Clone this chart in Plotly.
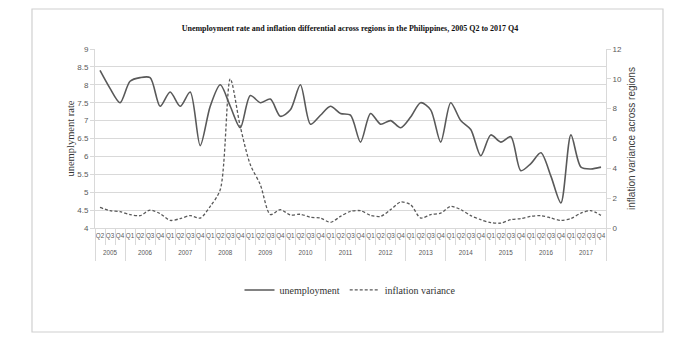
import plotly.graph_objects as go

years = ["2005"] * 3 + [str(y) for y in range(2006, 2018) for _ in range(4)]
quarters = ["Q2", "Q3", "Q4"] + ["Q1", "Q2", "Q3", "Q4"] * 12

unemployment = [
    8.4, 7.9, 7.5,
    8.1, 8.2, 8.2, 7.4,
    7.8, 7.4, 7.8, 6.3,
    7.4, 8.0, 7.4, 6.8,
    7.7, 7.5, 7.6, 7.12,
    7.3, 8.0, 6.9, 7.15,
    7.4, 7.2, 7.15, 6.4,
    7.2, 6.9, 7.0, 6.8,
    7.1, 7.5, 7.3, 6.4,
    7.5, 7.0, 6.75, 6.02,
    6.6, 6.4, 6.55, 5.6,
    5.8, 6.1, 5.45, 4.7,
    6.6, 5.7, 5.65, 5.7,
]
inflation_variance = [
    1.38, 1.16, 1.1,
    0.9, 0.83, 1.2, 0.96,
    0.51, 0.63, 0.83, 0.67,
    1.45, 2.57, 10.0, 6.8,
    4.25, 2.9, 0.9, 1.23,
    0.87, 0.92, 0.72, 0.67,
    0.38, 0.78, 1.12, 1.16,
    0.85, 0.78, 1.23, 1.74,
    1.56, 0.67, 0.9, 1.0,
    1.45, 1.23, 0.83, 0.56,
    0.36, 0.33, 0.56, 0.63,
    0.78, 0.83, 0.67, 0.51,
    0.63, 1.0, 1.16, 0.85,
]

n = len(quarters)
idx = list(range(n))
year_names = []
for y in years:
    if y not in year_names:
        year_names.append(y)
year_first = [years.index(y) for y in year_names]
year_last = [n - 1 - years[::-1].index(y) for y in year_names]
year_centers = [(a + b) / 2 for a, b in zip(year_first, year_last)]
year_bounds = [a - 0.5 for a in year_first] + [n - 0.5]
quarter_bounds = [i - 0.5 for i in idx[1:]]
xr = [-0.5, n - 0.5]

line_color = "#595959"
fig = go.Figure()
fig.add_trace(go.Scatter(
    x=idx, y=unemployment, name="unemployment", mode="lines",
    line=dict(color=line_color, width=1.6, shape="spline", smoothing=0.8),
))
fig.add_trace(go.Scatter(
    x=idx, y=inflation_variance, name="inflation variance", mode="lines",
    yaxis="y2",
    line=dict(color=line_color, width=1.3, dash="3px,2px", shape="spline", smoothing=0.8),
))
# invisible companions so the helper category axes are drawn
for ax in ["x2", "x3", "x4"]:
    fig.add_trace(go.Scatter(
        x=idx, y=unemployment, xaxis=ax, yaxis="y", mode="markers",
        marker=dict(opacity=0, size=1), hoverinfo="skip", showlegend=False,
    ))

grid = "#d9d9d9"
tickfont = dict(family="Liberation Sans", size=8, color="#595959")
small = dict(family="Liberation Sans", size=6.3, color="#595959")
fig.update_layout(
    width=700, height=340,
    margin=dict(l=95, r=94, t=49, b=112),
    paper_bgcolor="white", plot_bgcolor="white",
    title=dict(
        text="Unemployment rate and inflation differential across regions in the Philippines, 2005 Q2 to 2017 Q4",
        font=dict(family="Liberation Serif", size=8, color="#111111", weight="bold"),
        x=0.5, xanchor="center", y=1 - 28 / 340, yanchor="middle",
    ),
    xaxis=dict(
        range=xr, showgrid=False, zeroline=False, showline=True, linecolor=grid, linewidth=1,
        tickmode="array", tickvals=idx, ticktext=quarters, ticks="",
        tickfont=small, tickangle=0, ticklabelstandoff=1,
    ),
    xaxis2=dict(
        range=xr, overlaying="x", anchor="y", side="bottom", showgrid=False, zeroline=False,
        tickmode="array", tickvals=quarter_bounds, ticks="outside", ticklen=16,
        tickcolor=grid, showticklabels=False,
    ),
    xaxis3=dict(
        range=xr, overlaying="x", anchor="y", side="bottom", showgrid=False, zeroline=False,
        tickmode="array", tickvals=year_bounds, ticks="outside", ticklen=32,
        tickcolor=grid, showticklabels=False,
    ),
    xaxis4=dict(
        range=xr, overlaying="x", anchor="y", side="bottom", showgrid=False, zeroline=False,
        tickmode="array", tickvals=year_centers, ticktext=year_names, ticks="",
        tickfont=small, tickangle=0, ticklabelstandoff=20,
    ),
    yaxis=dict(
        range=[4, 9], dtick=0.5, showgrid=True, gridcolor=grid, gridwidth=1,
        showline=True, linecolor=grid, ticks="outside", ticklen=4, tickcolor=grid,
        tickfont=tickfont, zeroline=False,
        title=dict(text="unemplyment rate", font=dict(family="Liberation Serif", size=10.5, color="#333333"), standoff=0),
    ),
    yaxis2=dict(
        range=[0, 12], dtick=2, overlaying="y", side="right", showgrid=False,
        showline=True, linecolor=grid, ticks="outside", ticklen=4, tickcolor=grid,
        tickfont=tickfont, zeroline=False,
        title=dict(text="inflation variance across regions", font=dict(family="Liberation Sans", size=10, color="#404040"), standoff=6),
    ),
    legend=dict(
        orientation="h", x=0.5, xanchor="center", y=-0.346, yanchor="middle",
        font=dict(family="Liberation Serif", size=10, color="#333333"),
        itemwidth=30,
    ),
    showlegend=True,
    shapes=[dict(
        type="rect", xref="paper", yref="paper",
        x0=(32 - 95) / 511, x1=(663 - 95) / 511,
        y0=(228 - 332) / 179, y1=(228 - 9) / 179,
        line=dict(color="#d0d0d0", width=1.2), fillcolor="rgba(0,0,0,0)", layer="below",
    )],
)

fig.write_html("out.html")
